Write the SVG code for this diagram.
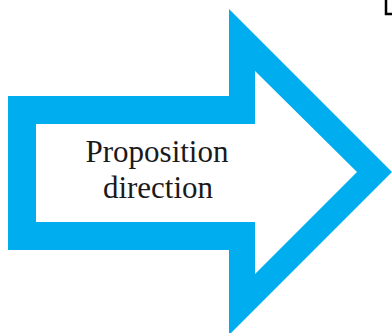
<svg xmlns="http://www.w3.org/2000/svg" width="392" height="333" viewBox="0 0 392 333">
<style>
.arrow{fill:#00AEEF;fill-rule:evenodd}
.label{font-family:"Liberation Serif","DejaVu Serif",serif;font-size:31px;fill:#1a1a1a;text-anchor:middle}
.mark{fill:none;stroke:#000;stroke-width:2.5}
</style>
<rect width="392" height="333" fill="#fff"/>
<g id="arrow">
<path class="arrow" d="M8,96 L229,96 L229,9 L392,172 L229,335 L229,250 L8,250 Z M36,124 L36,222 L255,222 L255,274 L357,172 L255,71 L255,124 Z"/>
<text class="label" x="157" y="162">Proposition</text>
<text class="label" x="158" y="198">direction</text>
</g>
<g id="connectors"></g>
<g id="corner">
<path class="mark" d="M386,0 L386,14 L392,14"/>
</g>
</svg>
